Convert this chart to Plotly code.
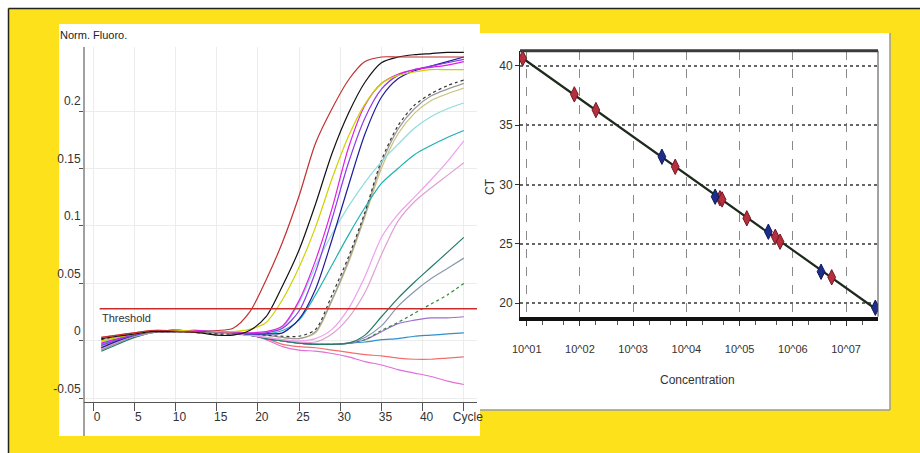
import numpy as np
import plotly.graph_objects as go

# ---------------- Left chart data (amplification curves) ----------------
cycles = [1, 3, 5, 7, 9, 11, 13, 15, 17, 19, 21, 23, 25, 27, 29, 31, 33, 35, 37, 39, 41, 43, 45]

curve_red = [0.003, 0.005, 0.007, 0.009, 0.009, 0.008, 0.008, 0.009, 0.011, 0.025, 0.053, 0.086, 0.126, 0.172, 0.202, 0.227, 0.243, 0.247, 0.247, 0.247, 0.247, 0.247, 0.247]
curve_black = [0.002, 0.004, 0.006, 0.008, 0.008, 0.008, 0.007, 0.005, 0.005, 0.009, 0.021, 0.048, 0.079, 0.119, 0.163, 0.198, 0.225, 0.242, 0.247, 0.249, 0.250, 0.251, 0.251]
curve_yellow = [0.000, 0.003, 0.006, 0.008, 0.009, 0.009, 0.008, 0.008, 0.008, 0.010, 0.016, 0.036, 0.064, 0.099, 0.141, 0.178, 0.206, 0.224, 0.231, 0.234, 0.236, 0.236, 0.236]
curve_magenta = [-0.002, 0.002, 0.006, 0.008, 0.009, 0.009, 0.009, 0.008, 0.007, 0.007, 0.008, 0.013, 0.035, 0.070, 0.115, 0.168, 0.205, 0.224, 0.232, 0.236, 0.238, 0.240, 0.243]
curve_violet = [-0.004, 0.001, 0.005, 0.008, 0.009, 0.009, 0.008, 0.008, 0.007, 0.006, 0.007, 0.011, 0.026, 0.060, 0.106, 0.155, 0.194, 0.219, 0.231, 0.236, 0.239, 0.242, 0.245]
curve_navy = [-0.006, 0.000, 0.005, 0.008, 0.009, 0.009, 0.008, 0.008, 0.007, 0.006, 0.006, 0.007, 0.019, 0.045, 0.088, 0.135, 0.180, 0.212, 0.228, 0.235, 0.239, 0.243, 0.247]
curve_palecyan = [-0.001, 0.003, 0.006, 0.008, 0.009, 0.009, 0.008, 0.008, 0.007, 0.007, 0.007, 0.012, 0.033, 0.065, 0.093, 0.117, 0.138, 0.156, 0.171, 0.185, 0.195, 0.202, 0.207]
curve_cyan = [-0.003, 0.002, 0.006, 0.008, 0.009, 0.009, 0.009, 0.008, 0.007, 0.006, 0.006, 0.009, 0.018, 0.040, 0.066, 0.092, 0.116, 0.137, 0.150, 0.162, 0.170, 0.177, 0.183]
curve_dotted = [0.001, 0.004, 0.006, 0.008, 0.008, 0.008, 0.007, 0.006, 0.006, 0.006, 0.005, 0.004, 0.004, 0.010, 0.040, 0.073, 0.112, 0.157, 0.187, 0.205, 0.215, 0.222, 0.227]
curve_gray = [-0.008, -0.002, 0.004, 0.007, 0.008, 0.008, 0.008, 0.007, 0.007, 0.006, 0.005, 0.003, 0.002, 0.008, 0.036, 0.070, 0.110, 0.154, 0.184, 0.202, 0.213, 0.219, 0.224]
curve_khaki = [-0.005, 0.000, 0.005, 0.008, 0.009, 0.009, 0.008, 0.007, 0.007, 0.006, 0.005, 0.003, 0.002, 0.007, 0.035, 0.068, 0.108, 0.150, 0.180, 0.198, 0.209, 0.215, 0.220]
curve_pinkA = [-0.007, -0.001, 0.004, 0.007, 0.008, 0.008, 0.008, 0.007, 0.006, 0.005, 0.003, 0.001, 0.000, 0.002, 0.010, 0.028, 0.056, 0.090, 0.110, 0.125, 0.140, 0.156, 0.174]
curve_pinkB = [-0.006, -0.001, 0.004, 0.007, 0.008, 0.008, 0.008, 0.007, 0.006, 0.005, 0.003, 0.001, -0.001, -0.001, 0.006, 0.020, 0.042, 0.075, 0.104, 0.121, 0.133, 0.144, 0.155]
curve_teal = [-0.009, -0.003, 0.003, 0.007, 0.008, 0.008, 0.008, 0.007, 0.006, 0.005, 0.002, 0.000, -0.002, -0.003, -0.003, -0.002, 0.005, 0.021, 0.037, 0.051, 0.064, 0.077, 0.090]
curve_slate = [-0.008, -0.002, 0.003, 0.007, 0.008, 0.008, 0.008, 0.007, 0.006, 0.005, 0.002, 0.000, -0.002, -0.003, -0.003, -0.002, 0.003, 0.013, 0.030, 0.043, 0.054, 0.063, 0.072]
curve_green = [-0.003, 0.002, 0.006, 0.008, 0.009, 0.009, 0.008, 0.007, 0.006, 0.005, 0.002, 0.000, -0.002, -0.003, -0.003, -0.002, 0.001, 0.009, 0.016, 0.024, 0.032, 0.040, 0.050]
curve_purple = [-0.007, -0.001, 0.004, 0.007, 0.008, 0.008, 0.008, 0.007, 0.006, 0.005, 0.002, 0.000, -0.002, -0.003, -0.003, -0.002, 0.001, 0.008, 0.015, 0.018, 0.020, 0.020, 0.021]
curve_blue = [-0.005, 0.000, 0.005, 0.008, 0.009, 0.009, 0.008, 0.007, 0.006, 0.005, 0.002, 0.000, -0.002, -0.003, -0.003, -0.002, -0.001, 0.001, 0.002, 0.004, 0.005, 0.006, 0.007]
curve_salmon = [0.003, 0.005, 0.007, 0.009, 0.009, 0.008, 0.008, 0.008, 0.008, 0.006, 0.002, -0.003, -0.005, -0.006, -0.008, -0.010, -0.012, -0.013, -0.015, -0.016, -0.016, -0.015, -0.014]
curve_orchid = [-0.004, 0.001, 0.005, 0.008, 0.009, 0.009, 0.008, 0.008, 0.008, 0.006, 0.001, -0.005, -0.008, -0.009, -0.011, -0.014, -0.018, -0.021, -0.025, -0.028, -0.031, -0.035, -0.038]

curves = [
    (curve_orchid, "#e070d8", "solid"),
    (curve_salmon, "#f07070", "solid"),
    (curve_blue, "#2f8fd0", "solid"),
    (curve_purple, "#9a70d0", "solid"),
    (curve_green, "#2e8b3a", "dot"),
    (curve_slate, "#8898b0", "solid"),
    (curve_teal, "#1f7a68", "solid"),
    (curve_pinkB, "#e0a0d0", "solid"),
    (curve_pinkA, "#eea0ee", "solid"),
    (curve_khaki, "#c8c27a", "solid"),
    (curve_gray, "#9a9a9a", "solid"),
    (curve_dotted, "#333333", "dot"),
    (curve_cyan, "#1fb0b0", "solid"),
    (curve_palecyan, "#90dcdc", "solid"),
    (curve_navy, "#1c1c9c", "solid"),
    (curve_violet, "#8a3ae8", "solid"),
    (curve_magenta, "#e020e0", "solid"),
    (curve_yellow, "#d0d000", "solid"),
    (curve_black, "#111111", "solid"),
    (curve_red, "#c03030", "solid"),
]

threshold_value = 0.028
threshold_start = 0.8

left_xticks = [0, 5, 10, 15, 20, 25, 30, 35, 40, 45]
left_xticktext = ["0", "5", "10", "15", "20", "25", "30", "35", "40", "Cycle"]
left_yticks = [-0.05, 0, 0.05, 0.1, 0.15, 0.2]
left_yticktext = ["-0.05", "0", "0.05", "0.1", "0.15", "0.2"]

# ---------------- Right chart data (standard curve) ----------------
conc_red = [8.4, 78.5, 199.5, 6166, 42658, 46774, 136458, 467735, 575440, 5370318]
ct_red = [40.64, 37.6, 36.28, 31.5, 28.85, 28.75, 27.16, 25.6, 25.19, 22.19]
conc_blue = [3467, 34674, 346737, 3388442, 35481339]
ct_blue = [32.35, 28.98, 26.03, 22.66, 19.63]

right_xticks = [1e1, 1e2, 1e3, 1e4, 1e5, 1e6, 1e7]
right_xticktext = ["10^01", "10^02", "10^03", "10^04", "10^05", "10^06", "10^07"]
right_yticks = [20, 25, 30, 35, 40]

# ---------------- Layout helpers ----------------
W, H = 920, 453
def PX(x):
    return x / W
def PY(y):
    return 1 - y / H

FONT = "Liberation Sans Narrow, Arial Narrow, Liberation Sans, Arial, sans-serif"
YELLOW = "#fce11b"

fig = go.Figure()

for vals, color, dash in curves:
    fig.add_trace(go.Scatter(
        x=cycles, y=vals, mode="lines",
        line=dict(color=color, width=1.2, dash=dash, shape="spline", smoothing=0.8),
        xaxis="x", yaxis="y", showlegend=False, hoverinfo="skip"))

left_xrange = [-1.1, 46.6]
fig.add_trace(go.Scatter(
    x=[threshold_start, left_xrange[1]], y=[threshold_value, threshold_value],
    mode="lines", line=dict(color="#cc2b2b", width=1.6),
    xaxis="x", yaxis="y", showlegend=False, hoverinfo="skip"))

# standard curve fit line
all_conc = np.array(conc_red + conc_blue, dtype=float)
all_ct = np.array(ct_red + ct_blue, dtype=float)
slope, intercept = np.polyfit(np.log10(all_conc), all_ct, 1)
lx = np.array([all_conc.min(), all_conc.max()])
ly = slope * np.log10(lx) + intercept
fig.add_trace(go.Scatter(
    x=lx, y=ly, mode="lines", line=dict(color="#1e2a1e", width=2.2),
    xaxis="x2", yaxis="y2", showlegend=False, hoverinfo="skip"))
fig.add_trace(go.Scatter(
    x=conc_red, y=ct_red, mode="markers",
    marker=dict(symbol="diamond-tall", size=11, color="#b3303c", line=dict(color="#7a1525", width=1)),
    xaxis="x2", yaxis="y2", showlegend=False, hoverinfo="skip"))
fig.add_trace(go.Scatter(
    x=conc_blue, y=ct_blue, mode="markers",
    marker=dict(symbol="diamond-tall", size=11, color="#1f2d8a", line=dict(color="#10185a", width=1)),
    xaxis="x2", yaxis="y2", showlegend=False, hoverinfo="skip"))

shapes = [
    dict(type="rect", xref="paper", yref="paper", x0=0, x1=1, y0=PY(8), y1=1,
         fillcolor="white", line_width=0, layer="below"),
    dict(type="rect", xref="paper", yref="paper", x0=0, x1=PX(8), y0=0, y1=1,
         fillcolor="white", line_width=0, layer="below"),
    dict(type="line", xref="paper", yref="paper", x0=PX(8.5), x1=1, y0=PY(8.5), y1=PY(8.5),
         line=dict(color="#222", width=1.5), layer="below"),
    dict(type="line", xref="paper", yref="paper", x0=PX(8.5), x1=PX(8.5), y0=0, y1=PY(8.5),
         line=dict(color="#222", width=1.5), layer="below"),
    dict(type="rect", xref="paper", yref="paper", x0=PX(59), x1=PX(480), y0=PY(436), y1=PY(24),
         fillcolor="white", line_width=0, layer="below"),
    dict(type="rect", xref="paper", yref="paper", x0=PX(480), x1=PX(890), y0=PY(410), y1=PY(33),
         fillcolor="white", line_width=0, layer="below"),
    dict(type="line", xref="paper", yref="paper", x0=PX(890), x1=PX(890), y0=PY(410), y1=PY(33),
         line=dict(color="#9a9a9a", width=1.5), layer="below"),
    dict(type="line", xref="paper", yref="paper", x0=PX(480), x1=PX(890), y0=PY(410), y1=PY(410),
         line=dict(color="#9a9a9a", width=1.5), layer="below"),
    dict(type="line", xref="paper", yref="paper", x0=PX(84), x1=PX(84), y0=PY(436), y1=PY(47),
         line=dict(color="#444", width=1), layer="above"),
    dict(type="line", xref="x2 domain", yref="y2 domain", x0=0, x1=1, y0=1, y1=1,
         line=dict(color="#3a3a3a", width=3), layer="above"),
    dict(type="line", xref="x2 domain", yref="y2 domain", x0=1, x1=1, y0=0, y1=1,
         line=dict(color="#444", width=1), layer="above"),
]

annotations = [
    dict(text="Norm. Fluoro.", xref="paper", yref="paper", x=PX(58), y=PY(35),
         xanchor="left", yanchor="middle", showarrow=False,
         font=dict(family=FONT, size=11, color="#222")),
    dict(text="Threshold", xref="x", yref="y", x=threshold_start, y=threshold_value,
         xanchor="left", yanchor="top", yshift=-1, showarrow=False,
         font=dict(family=FONT, size=11, color="#333")),
    dict(text="CT", xref="paper", yref="paper", x=PX(490), y=PY(187), textangle=-90,
         xanchor="center", yanchor="middle", showarrow=False,
         font=dict(family=FONT, size=12, color="#333")),
    dict(text="Concentration", xref="paper", yref="paper", x=PX(697), y=PY(380),
         xanchor="center", yanchor="middle", showarrow=False,
         font=dict(family=FONT, size=12, color="#333")),
]

tickfont = dict(family=FONT, size=11, color="#333")

fig.update_layout(
    width=W, height=H,
    margin=dict(l=0, r=0, t=0, b=0, autoexpand=False),
    paper_bgcolor=YELLOW, plot_bgcolor="rgba(0,0,0,0)",
    showlegend=False,
    shapes=shapes, annotations=annotations,
    xaxis=dict(domain=[PX(84), PX(477)], range=left_xrange, anchor="y",
               tickvals=left_xticks, ticktext=left_xticktext,
               ticks="outside", ticklen=8, tickcolor="#555", tickwidth=1,
               showline=True, linecolor="#555", linewidth=1.2,
               showgrid=True, gridcolor="#ececec", gridwidth=1, zeroline=False,
               tickfont=dict(family=FONT, size=12, color="#333"),
               ticklabelshift=4, ticklabelstandoff=-5),
    yaxis=dict(domain=[PY(402), PY(47)], range=[-0.0532, 0.2557], anchor="x",
               tickvals=left_yticks, ticktext=left_yticktext,
               ticks="outside", ticklen=4, tickcolor="#555",
               showline=False, showgrid=True, gridcolor="#ececec", gridwidth=1,
               zeroline=False, tickfont=dict(family=FONT, size=12, color="#333"),
               ticklabelshift=-10, ticklabelstandoff=-4),
    xaxis2=dict(domain=[PX(520), PX(878)], type="log", range=[0.874, 7.60], anchor="y2",
                tickvals=right_xticks, ticktext=right_xticktext,
                ticks="outside", ticklen=5, tickcolor="#333",
                minor=dict(ticks="outside", ticklen=4, tickcolor="#555", dtick="D2", showgrid=False),
                showline=True, linecolor="#111", linewidth=4,
                showgrid=True, gridcolor="#8a8a8a", griddash="dash", gridwidth=1,
                zeroline=False, tickfont=tickfont, ticklabelstandoff=14),
    yaxis2=dict(domain=[PY(316.7), PY(50.7)], range=[18.87, 41.28], anchor="x2",
                tickvals=right_yticks, ticks="outside", ticklen=4, tickcolor="#333",
                showline=True, linecolor="#222", linewidth=1,
                showgrid=True, gridcolor="#666", griddash="dot", gridwidth=1.5,
                zeroline=False, tickfont=dict(family=FONT, size=12, color="#333")),
)

fig.write_html("out.html")
